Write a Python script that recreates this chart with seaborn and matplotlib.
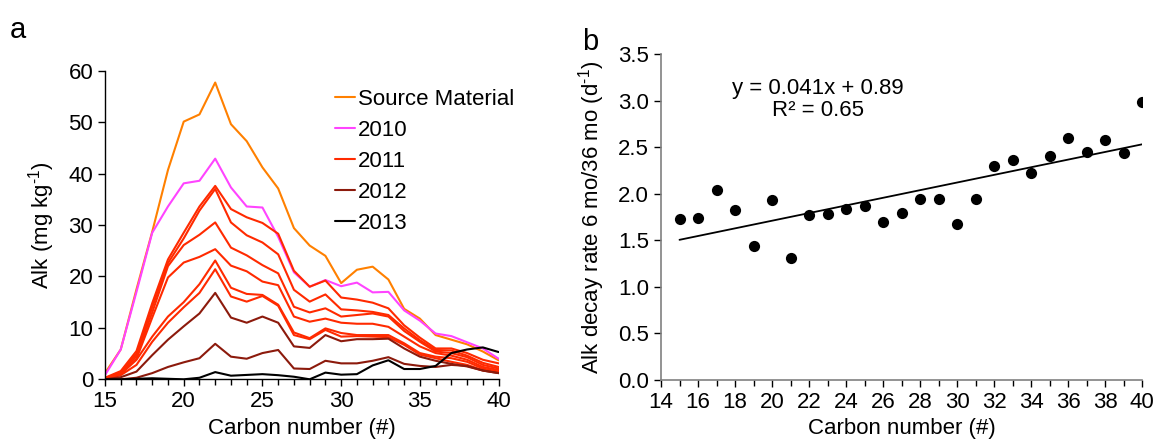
import numpy as np
import pandas as pd
import matplotlib
matplotlib.use("Agg")
import matplotlib.pyplot as plt
import seaborn as sns

# ---------------- data: panel a ----------------
carbon = list(range(15, 41))
source_material = [1.2, 5.8, 17.5, 28.7, 40.7, 50.1, 51.5, 57.7, 49.6, 46.3, 41.2, 37.1, 29.4,
                   26.0, 24.0, 18.7, 21.3, 21.9, 19.4, 13.7, 11.8, 8.6, 7.7, 6.8, 5.4, 3.7]
y2010 = [0.8, 5.8, 17.0, 28.5, 33.6, 38.1, 38.6, 42.9, 37.3, 33.6, 33.4, 27.7, 20.8,
         18.0, 19.3, 18.1, 18.8, 16.9, 17.0, 13.4, 11.4, 8.9, 8.4, 7.2, 6.0, 4.0]
y2011_a = [0.3, 1.6, 5.5, 14.8, 23.3, 28.5, 33.6, 37.6, 33.1, 31.5, 30.4, 28.3, 21.1,
           18.0, 19.2, 15.9, 15.5, 14.9, 13.8, 10.5, 8.1, 6.0, 6.0, 5.1, 3.8, 3.1]
y2011_b = [0.2, 1.4, 5.0, 14.0, 22.6, 27.4, 32.8, 37.0, 30.5, 28.0, 26.6, 24.3, 17.4,
           15.1, 16.5, 13.6, 13.4, 13.1, 12.5, 9.9, 7.6, 5.7, 5.6, 4.6, 3.2, 2.4]
y2011_c = [0.1, 1.2, 4.5, 13.0, 22.0, 26.1, 28.1, 30.5, 25.6, 24.1, 22.2, 20.6, 14.1,
           13.0, 13.8, 12.2, 12.5, 12.8, 12.2, 9.4, 7.3, 5.4, 5.1, 4.3, 2.8, 2.1]
y2011_d = [0.1, 1.0, 4.0, 12.0, 19.8, 22.7, 23.8, 25.3, 22.1, 21.0, 19.0, 18.3, 12.2,
           11.2, 11.8, 11.0, 10.8, 10.8, 10.2, 8.3, 6.4, 5.1, 4.6, 3.8, 2.4, 1.8]
y2011_e = [0.0, 1.0, 3.8, 8.3, 12.2, 15.0, 18.5, 23.1, 17.8, 16.6, 16.4, 14.5, 9.1,
           8.0, 9.9, 9.0, 8.6, 8.6, 8.6, 7.0, 5.1, 4.4, 4.1, 3.4, 2.1, 1.5]
y2011_f = [0.0, 0.8, 2.8, 7.3, 11.0, 14.0, 16.8, 21.4, 16.1, 15.1, 16.2, 14.3, 8.6,
           7.8, 9.6, 8.3, 8.4, 8.3, 8.2, 6.7, 4.8, 4.1, 3.4, 2.8, 1.8, 1.3]
y2012_a = [0.0, 0.4, 1.5, 4.7, 7.7, 10.3, 12.8, 16.8, 12.0, 11.0, 12.2, 11.0, 6.4,
           6.1, 8.6, 7.4, 7.8, 7.8, 7.9, 6.0, 4.4, 3.6, 3.0, 2.5, 1.7, 1.2]
y2012_b = [0.0, 0.0, 0.3, 1.2, 2.4, 3.3, 4.1, 6.9, 4.4, 4.0, 5.1, 5.7, 2.1,
           2.0, 3.6, 3.1, 3.1, 3.6, 4.3, 3.0, 2.6, 2.4, 2.8, 2.6, 1.7, 1.2]
y2013 = [0.0, 0.0, 0.1, 0.2, 0.1, 0.0, 0.3, 1.4, 0.7, 0.85, 1.0, 0.8, 0.5,
         0.0, 1.3, 0.9, 1.0, 2.7, 3.7, 2.0, 2.0, 2.6, 5.1, 5.8, 6.2, 5.3]

series_names = ["Source Material", "2010", "2011", "2012", "2013"]
series_colors = ["#FF8000", "#FF44FF", "#FF2A00", "#8C1A0C", "#000000"]

# ---------------- data: panel b ----------------
carbon_b = list(range(15, 41))
decay_rate = [1.73, 1.74, 2.04, 1.83, 1.44, 1.93, 1.31, 1.77, 1.78, 1.84, 1.87, 1.70, 1.79,
              1.94, 1.94, 1.68, 1.94, 2.30, 2.36, 2.22, 2.41, 2.60, 2.45, 2.58, 2.44, 2.98]
fit_slope = 0.041
fit_intercept = 0.89
fit_text = "y = 0.041x + 0.89\nR² = 0.65"

# ---------------- build long table ----------------
groups = [("Source Material", [source_material]),
          ("2010", [y2010]),
          ("2011", [y2011_a, y2011_b, y2011_c, y2011_d, y2011_e, y2011_f]),
          ("2012", [y2012_a, y2012_b]),
          ("2013", [y2013])]
rows = []
rep = 0
for name, lines in groups:
    for vals in lines:
        for c, v in zip(carbon, vals):
            rows.append({"carbon": c, "alk": v, "series": name, "rep": rep})
        rep += 1
df = pd.DataFrame(rows)

sns.set_style("ticks")
plt.rcParams["font.family"] = ["Liberation Sans", "DejaVu Sans"]
plt.rcParams["mathtext.fontset"] = "custom"
plt.rcParams["mathtext.rm"] = "Liberation Sans"
plt.rcParams["mathtext.it"] = "Liberation Sans:italic"
for key in ["text.color", "axes.labelcolor", "xtick.color", "ytick.color"]:
    plt.rcParams[key] = "black"

FS = 16
fig = plt.figure(figsize=(11.56, 4.46), dpi=100)
W, H = 1156, 446
axa = fig.add_axes([105 / W, 1 - 379.3 / H, (498.6 - 105) / W, (379.3 - 70.7) / H])
axb = fig.add_axes([661 / W, 1 - 380 / H, (1142 - 661) / W, (380 - 54) / H])

pal = dict(zip(series_names, series_colors))
sns.lineplot(data=df, x="carbon", y="alk", hue="series", units="rep", estimator=None,
             palette=pal, hue_order=series_names, lw=1.5, ax=axa)
axa.set_xlim(15, 40)
axa.set_ylim(0, 60)
axa.set_xticks(range(15, 41, 5))
axa.set_xticks(range(15, 41), minor=True)
axa.set_yticks(range(0, 61, 10))
axa.set_xlabel("Carbon number (#)", fontsize=FS, labelpad=4)
axa.set_ylabel(r"Alk (mg kg$^{\text{-1}}$)", fontsize=FS, labelpad=8)
axa.tick_params(axis="both", which="both", direction="out", labelsize=FS, width=1, color="black")
axa.tick_params(axis="both", which="major", length=5)
axa.tick_params(axis="x", which="minor", length=4)
for s in ["top", "right"]:
    axa.spines[s].set_visible(False)
for s in ["left", "bottom"]:
    axa.spines[s].set_color("black")
    axa.spines[s].set_linewidth(1)

h, l = axa.get_legend_handles_labels()
leg = axa.legend(h, l, loc="upper left", bbox_to_anchor=(335 / W, 1 - 89 / H),
                 bbox_transform=fig.transFigure, frameon=False, fontsize=FS,
                 handlelength=0.9, handletextpad=0.15, labelspacing=0.45, borderpad=0,
                 borderaxespad=0)
for line in leg.get_lines():
    line.set_linewidth(1.5)

# panel b
sns.scatterplot(x=carbon_b, y=decay_rate, color="black", edgecolor="black", s=65,
                linewidth=0, ax=axb, zorder=3)
xfit = np.array([min(carbon_b), max(carbon_b)])
sns.lineplot(x=xfit, y=fit_slope * xfit + fit_intercept, color="black", lw=1.3, ax=axb)
axb.set_xlim(14, 40)
axb.set_ylim(0, 3.5)
axb.set_xticks(range(14, 41, 2))
axb.set_xticks(range(14, 41), minor=True)
axb.set_yticks(np.arange(0, 3.51, 0.5))
axb.set_yticklabels([f"{v:.1f}" for v in np.arange(0, 3.51, 0.5)])
axb.set_xlabel("Carbon number (#)", fontsize=FS, labelpad=4)
axb.set_ylabel(r"Alk decay rate 6 mo/36 mo (d$^{\text{-1}}$)", fontsize=FS, labelpad=8)
axb.tick_params(axis="both", which="both", direction="out", labelsize=FS, width=1, color="black")
axb.tick_params(axis="both", which="major", length=5)
axb.tick_params(axis="x", which="minor", length=4)
for s in ["top", "right"]:
    axb.spines[s].set_visible(False)
for s in ["left", "bottom"]:
    axb.spines[s].set_color("#808080")
    axb.spines[s].set_linewidth(1.2)
axb.text(22.5, 3.01, fit_text, ha="center", va="center", fontsize=FS, linespacing=1.05)

fig.text(10 / W, 1 - 30 / H, "a", fontsize=21, ha="left", va="center")
fig.text(582 / W, 1 - 42 / H, "b", fontsize=21, ha="left", va="center")

fig.savefig("out.png", dpi=100)
